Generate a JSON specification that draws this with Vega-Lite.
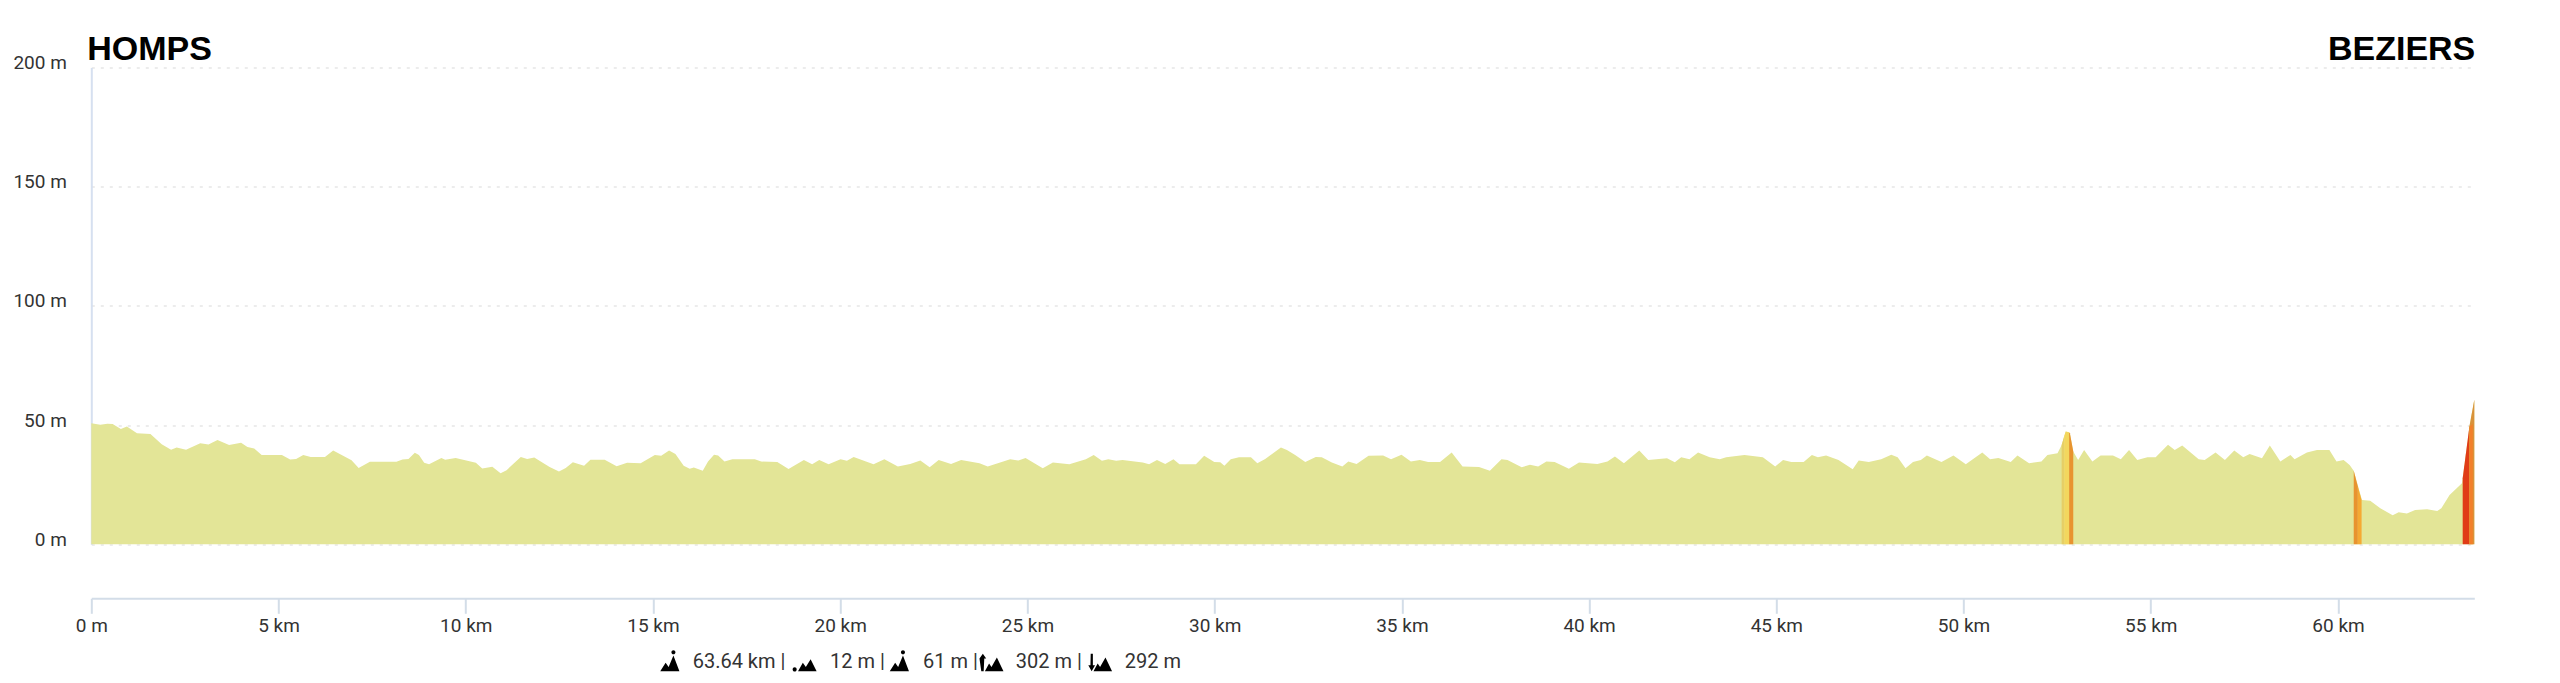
{"$schema":"https://vega.github.io/schema/vega-lite/v6.json","width":2383,"height":476.8,"autosize":"none","padding":{"left":91.3,"top":67.5,"right":85.7,"bottom":138.7},"background":"white","config":{"view":{"stroke":null}},
"datasets":{"profile":[{"km":0,"elev":50.8},{"km":0.24,"elev":50.1},{"km":0.43,"elev":50.6},{"km":0.57,"elev":50.5},{"km":0.79,"elev":48.4},{"km":0.95,"elev":49.4},{"km":1.22,"elev":46.6},{"km":1.58,"elev":46.3},{"km":1.88,"elev":42},{"km":2.13,"elev":39.7},{"km":2.28,"elev":40.6},{"km":2.53,"elev":39.7},{"km":2.91,"elev":42.4},{"km":3.13,"elev":41.9},{"km":3.37,"elev":43.7},{"km":3.68,"elev":41.7},{"km":4,"elev":42.6},{"km":4.17,"elev":40.8},{"km":4.35,"elev":40.2},{"km":4.55,"elev":37.5},{"km":5.09,"elev":37.5},{"km":5.31,"elev":35.6},{"km":5.47,"elev":35.8},{"km":5.66,"elev":37.5},{"km":5.86,"elev":36.6},{"km":6.24,"elev":36.6},{"km":6.46,"elev":39.3},{"km":6.95,"elev":35.3},{"km":7.14,"elev":32},{"km":7.44,"elev":34.6},{"km":8.15,"elev":34.6},{"km":8.31,"elev":35.6},{"km":8.47,"elev":35.8},{"km":8.64,"elev":38.4},{"km":8.75,"elev":37.5},{"km":8.89,"elev":34.2},{"km":9.02,"elev":33.6},{"km":9.35,"elev":36.2},{"km":9.45,"elev":35.5},{"km":9.73,"elev":36.2},{"km":10.27,"elev":34.2},{"km":10.44,"elev":31.8},{"km":10.71,"elev":32.5},{"km":10.93,"elev":29.8},{"km":11.09,"elev":31.1},{"km":11.47,"elev":36.6},{"km":11.64,"elev":35.8},{"km":11.83,"elev":36.4},{"km":12.24,"elev":32.4},{"km":12.49,"elev":30.5},{"km":12.67,"elev":32},{"km":12.86,"elev":34.4},{"km":13.16,"elev":32.9},{"km":13.33,"elev":35.5},{"km":13.71,"elev":35.5},{"km":14.03,"elev":32.7},{"km":14.31,"elev":34.2},{"km":14.67,"elev":34},{"km":15.05,"elev":37.5},{"km":15.22,"elev":37.1},{"km":15.43,"elev":39.3},{"km":15.6,"elev":37.9},{"km":15.82,"elev":32.9},{"km":15.98,"elev":31.7},{"km":16.09,"elev":32.2},{"km":16.33,"elev":30.9},{"km":16.47,"elev":34.7},{"km":16.63,"elev":37.6},{"km":16.74,"elev":37.3},{"km":16.91,"elev":34.7},{"km":17.12,"elev":35.7},{"km":17.72,"elev":35.7},{"km":17.89,"elev":34.7},{"km":18.32,"elev":34.5},{"km":18.62,"elev":31.6},{"km":19.03,"elev":35.4},{"km":19.25,"elev":33.6},{"km":19.44,"elev":35.4},{"km":19.69,"elev":33.6},{"km":20.01,"elev":35.7},{"km":20.18,"elev":35},{"km":20.36,"elev":36.6},{"km":20.89,"elev":33.6},{"km":21.18,"elev":35.7},{"km":21.54,"elev":32.6},{"km":21.87,"elev":33.7},{"km":22.14,"elev":35.2},{"km":22.39,"elev":32.3},{"km":22.63,"elev":35.4},{"km":22.96,"elev":33.7},{"km":23.23,"elev":35.4},{"km":23.72,"elev":34},{"km":23.94,"elev":32.6},{"km":24.54,"elev":35.7},{"km":24.76,"elev":35.1},{"km":24.95,"elev":36.2},{"km":25.41,"elev":31.9},{"km":25.68,"elev":34.3},{"km":26.12,"elev":33.6},{"km":26.56,"elev":35.7},{"km":26.77,"elev":37.5},{"km":26.99,"elev":35},{"km":27.16,"elev":35.7},{"km":27.37,"elev":35},{"km":27.54,"elev":35.4},{"km":28.08,"elev":34.3},{"km":28.25,"elev":33.6},{"km":28.46,"elev":35.4},{"km":28.68,"elev":33.7},{"km":28.9,"elev":35.7},{"km":29.06,"elev":33.6},{"km":29.5,"elev":33.6},{"km":29.72,"elev":37.1},{"km":29.99,"elev":34.5},{"km":30.15,"elev":34.4},{"km":30.26,"elev":32.9},{"km":30.43,"elev":35.7},{"km":30.65,"elev":36.5},{"km":30.97,"elev":36.5},{"km":31.14,"elev":34},{"km":31.35,"elev":35.8},{"km":31.77,"elev":40.6},{"km":31.93,"elev":39.6},{"km":32.15,"elev":37.5},{"km":32.42,"elev":34.5},{"km":32.7,"elev":36.6},{"km":32.86,"elev":36.5},{"km":33.13,"elev":34.3},{"km":33.41,"elev":32.6},{"km":33.57,"elev":34.7},{"km":33.79,"elev":33.7},{"km":34.11,"elev":37.1},{"km":34.5,"elev":37.3},{"km":34.71,"elev":35.7},{"km":34.99,"elev":37.6},{"km":35.24,"elev":34.7},{"km":35.48,"elev":35.4},{"km":35.7,"elev":34.5},{"km":36.02,"elev":34.5},{"km":36.33,"elev":38.5},{"km":36.62,"elev":32.6},{"km":37.06,"elev":32.4},{"km":37.35,"elev":30.8},{"km":37.66,"elev":35.7},{"km":37.82,"elev":35.4},{"km":38.2,"elev":32.3},{"km":38.42,"elev":33.4},{"km":38.64,"elev":32.6},{"km":38.86,"elev":34.7},{"km":39.08,"elev":34.5},{"km":39.46,"elev":31.7},{"km":39.73,"elev":34.3},{"km":40.22,"elev":33.7},{"km":40.49,"elev":34.7},{"km":40.69,"elev":36.8},{"km":40.93,"elev":34},{"km":41.34,"elev":39.3},{"km":41.58,"elev":35.4},{"km":42.08,"elev":36.1},{"km":42.29,"elev":34.4},{"km":42.46,"elev":36.5},{"km":42.68,"elev":35.7},{"km":42.91,"elev":38.5},{"km":43.22,"elev":36.5},{"km":43.49,"elev":35.7},{"km":43.66,"elev":36.5},{"km":44.15,"elev":37.5},{"km":44.64,"elev":36.5},{"km":44.97,"elev":32.6},{"km":45.18,"elev":35.4},{"km":45.4,"elev":34.5},{"km":45.73,"elev":34.5},{"km":45.95,"elev":37.5},{"km":46.11,"elev":36.5},{"km":46.33,"elev":37.3},{"km":46.66,"elev":35.4},{"km":47.04,"elev":31.5},{"km":47.2,"elev":35.1},{"km":47.47,"elev":34.5},{"km":47.8,"elev":35.7},{"km":48.07,"elev":37.6},{"km":48.24,"elev":36.5},{"km":48.45,"elev":31.9},{"km":48.65,"elev":34.5},{"km":48.86,"elev":35.4},{"km":49.02,"elev":37.3},{"km":49.41,"elev":34.5},{"km":49.73,"elev":37.3},{"km":50.06,"elev":33.6},{"km":50.5,"elev":38.5},{"km":50.71,"elev":35.7},{"km":50.93,"elev":36.2},{"km":51.26,"elev":34.5},{"km":51.44,"elev":37.3},{"km":51.75,"elev":34},{"km":52.08,"elev":34.7},{"km":52.24,"elev":37.5},{"km":52.51,"elev":38.2},{"km":52.62,"elev":41.7},{"km":52.73,"elev":47.3},{"km":52.84,"elev":46.6},{"km":52.93,"elev":38.9},{"km":53.06,"elev":35.4},{"km":53.22,"elev":39.6},{"km":53.44,"elev":34.7},{"km":53.66,"elev":37.3},{"km":53.99,"elev":37.3},{"km":54.2,"elev":35.7},{"km":54.42,"elev":39.6},{"km":54.64,"elev":35.4},{"km":54.91,"elev":36.5},{"km":55.13,"elev":36.5},{"km":55.46,"elev":41.8},{"km":55.64,"elev":39.6},{"km":55.84,"elev":41.4},{"km":56.28,"elev":35.7},{"km":56.44,"elev":35.4},{"km":56.73,"elev":38.5},{"km":56.98,"elev":35.4},{"km":57.23,"elev":39.3},{"km":57.47,"elev":36.5},{"km":57.64,"elev":37.9},{"km":57.97,"elev":36.1},{"km":58.18,"elev":41.4},{"km":58.46,"elev":34.7},{"km":58.73,"elev":37.5},{"km":58.84,"elev":35.7},{"km":59.17,"elev":38.5},{"km":59.44,"elev":39.6},{"km":59.77,"elev":39.6},{"km":59.96,"elev":34.7},{"km":60.15,"elev":35.4},{"km":60.31,"elev":33.3},{"km":60.42,"elev":30.8},{"km":60.64,"elev":18.6},{"km":60.86,"elev":18.3},{"km":61.13,"elev":15.1},{"km":61.46,"elev":12.2},{"km":61.62,"elev":13.4},{"km":61.84,"elev":12.9},{"km":62.06,"elev":14.4},{"km":62.38,"elev":14.7},{"km":62.65,"elev":14},{"km":62.76,"elev":15.1},{"km":62.98,"elev":20.7},{"km":63.31,"elev":25.6},{"km":63.33,"elev":27.7},{"km":63.51,"elev":49.4},{"km":63.64,"elev":60.6}],
"climbs":[{"km":52.62,"elev":41.7,"seg":"a1","grade":"g1"},{"km":52.69,"elev":45.5,"seg":"a1","grade":"g1"},{"km":52.69,"elev":45.5,"seg":"a2","grade":"g2"},{"km":52.73,"elev":47.3,"seg":"a2","grade":"g2"},{"km":52.82,"elev":47,"seg":"a2","grade":"g2"},{"km":52.82,"elev":47,"seg":"a3","grade":"g3"},{"km":52.84,"elev":46.6,"seg":"a3","grade":"g3"},{"km":52.93,"elev":38.9,"seg":"a3","grade":"g3"},{"km":60.42,"elev":30.8,"seg":"b1","grade":"g3"},{"km":60.53,"elev":24.2,"seg":"b1","grade":"g3"},{"km":60.53,"elev":24.2,"seg":"b2","grade":"g4"},{"km":60.63,"elev":18.6,"seg":"b2","grade":"g4"},{"km":63.33,"elev":27.7,"seg":"c1","grade":"g5"},{"km":63.51,"elev":49.4,"seg":"c1","grade":"g5"},{"km":63.5,"elev":48.6,"seg":"c3","grade":"g6"},{"km":63.64,"elev":60.6,"seg":"c3","grade":"g6"},{"km":63.51,"elev":49.4,"seg":"c2","grade":"g7"},{"km":63.6,"elev":50.5,"seg":"c2","grade":"g7"}],
"stats":[{"km":16.06,"elev":-52,"label":"63.64 km |"},{"km":19.73,"elev":-52,"label":"12 m |"},{"km":22.21,"elev":-52,"label":"61 m |"},{"km":24.69,"elev":-52,"label":"302 m |"},{"km":27.6,"elev":-52,"label":"292 m"}],
"icons":[{"km":15.45,"elev":-48.7,"icon":"distance"},{"km":19.05,"elev":-48.7,"icon":"lowest"},{"km":21.58,"elev":-48.7,"icon":"highest"},{"km":24.04,"elev":-48.7,"icon":"ascent"},{"km":26.94,"elev":-48.7,"icon":"descent"}]},
"layer":[
{"data":{"name":"profile"},"mark":{"type":"area","color":"#e3e597","interpolate":"linear"},"encoding":{"x":{"field":"km","type":"quantitative","scale":{"domain":[0,63.64],"nice":false,"zero":false},"axis":{"values":[0,5,10,15,20,25,30,35,40,45,50,55,60],"labelExpr":"datum.value === 0 ? '0 m' : datum.value + ' km'","offset":54,"title":null,"grid":false,"domainColor":"#d3dde8","domainWidth":2,"tickColor":"#d3dde8","tickWidth":2,"tickSize":15,"labelPadding":3,"labelFont":"Roboto","labelFontSize":19,"labelColor":"#333333","labelFlush":false}},"y":{"field":"elev","type":"quantitative","stack":null,"scale":{"domain":[0,200],"nice":false,"zero":false},"axis":{"values":[0,50,100,150,200],"labelExpr":"datum.value + ' m'","title":null,"grid":true,"gridColor":"#e6e6e6","gridDash":[3,6],"gridWidth":1.5,"domainColor":"#d6e0f0","domainWidth":2,"ticks":false,"labelPadding":25,"labelOffset":-5,"labelFont":"Roboto","labelFontSize":19,"labelColor":"#333333"}}}},
{"data":{"name":"climbs"},"mark":{"type":"area","interpolate":"linear"},"encoding":{"x":{"field":"km","type":"quantitative"},"y":{"field":"elev","type":"quantitative","stack":null},"detail":{"field":"seg"},"color":{"field":"grade","type":"nominal","legend":null,"scale":{"domain":["g1","g2","g3","g4","g5","g6","g7"],"range":["#e6cf66","#f3d75e","#e8932f","#f5a933","#e03c17","#d9923a","#f2802a"]}}}},
{"data":{"values":[{"km":0,"elev":203.1,"label":"HOMPS"}]},"mark":{"type":"text","align":"left","baseline":"alphabetic","dx":-4,"font":"Liberation Sans","fontWeight":"bold","fontSize":34,"color":"#000000"},"encoding":{"x":{"field":"km","type":"quantitative"},"y":{"field":"elev","type":"quantitative"},"text":{"field":"label"}}},
{"data":{"values":[{"km":63.64,"elev":203.1,"label":"BEZIERS"}]},"mark":{"type":"text","align":"right","baseline":"alphabetic","dx":1,"font":"Liberation Sans","fontWeight":"bold","fontSize":34,"color":"#000000"},"encoding":{"x":{"field":"km","type":"quantitative"},"y":{"field":"elev","type":"quantitative"},"text":{"field":"label"}}},
{"data":{"name":"stats"},"mark":{"type":"text","align":"left","baseline":"alphabetic","font":"Roboto","fontSize":20,"color":"#333333"},"encoding":{"x":{"field":"km","type":"quantitative"},"y":{"field":"elev","type":"quantitative"},"text":{"field":"label"}}},
{"data":{"name":"icons"},"mark":{"type":"point","filled":true,"opacity":1,"size":576,"color":"#000000"},"encoding":{"x":{"field":"km","type":"quantitative"},"y":{"field":"elev","type":"quantitative"},"shape":{"field":"icon","type":"nominal","legend":null,"scale":{"domain":["distance","lowest","highest","ascent","descent"],"range":["M-0.8 0.9L-0.35 0.2L-0.1 0.55L0.3 -0.4L0.8 0.9ZM0.3 -0.85A0.17 0.17 0 1 1 0.3 -0.51A0.17 0.17 0 1 1 0.3 -0.85Z","M-1 0.75A0.17 0.17 0 1 1 -0.66 0.75A0.17 0.17 0 1 1 -1 0.75ZM-0.55 0.9L-0.15 0.2L0.1 0.55L0.5 -0.1L1 0.9Z","M-0.8 0.9L-0.35 0.2L-0.1 0.55L0.3 -0.4L0.8 0.9ZM0.3 -0.85A0.17 0.17 0 1 1 0.3 -0.51A0.17 0.17 0 1 1 0.3 -0.85Z","M-1 -0.15L-0.72 -0.55L-0.44 -0.15L-0.6 -0.15L-0.65 0.9L-0.85 0.9ZM-0.55 0.9L-0.2 0.25L0 0.55L0.45 -0.25L1 0.9Z","M-0.78 -0.55L-0.6 -0.55L-0.6 0.4L-0.42 0.4L-0.7 0.9L-0.98 0.4L-0.8 0.4ZM-0.55 0.9L-0.2 0.25L0 0.55L0.45 -0.25L1 0.9Z"]}}}}
],"resolve":{"scale":{"color":"independent"}}}
